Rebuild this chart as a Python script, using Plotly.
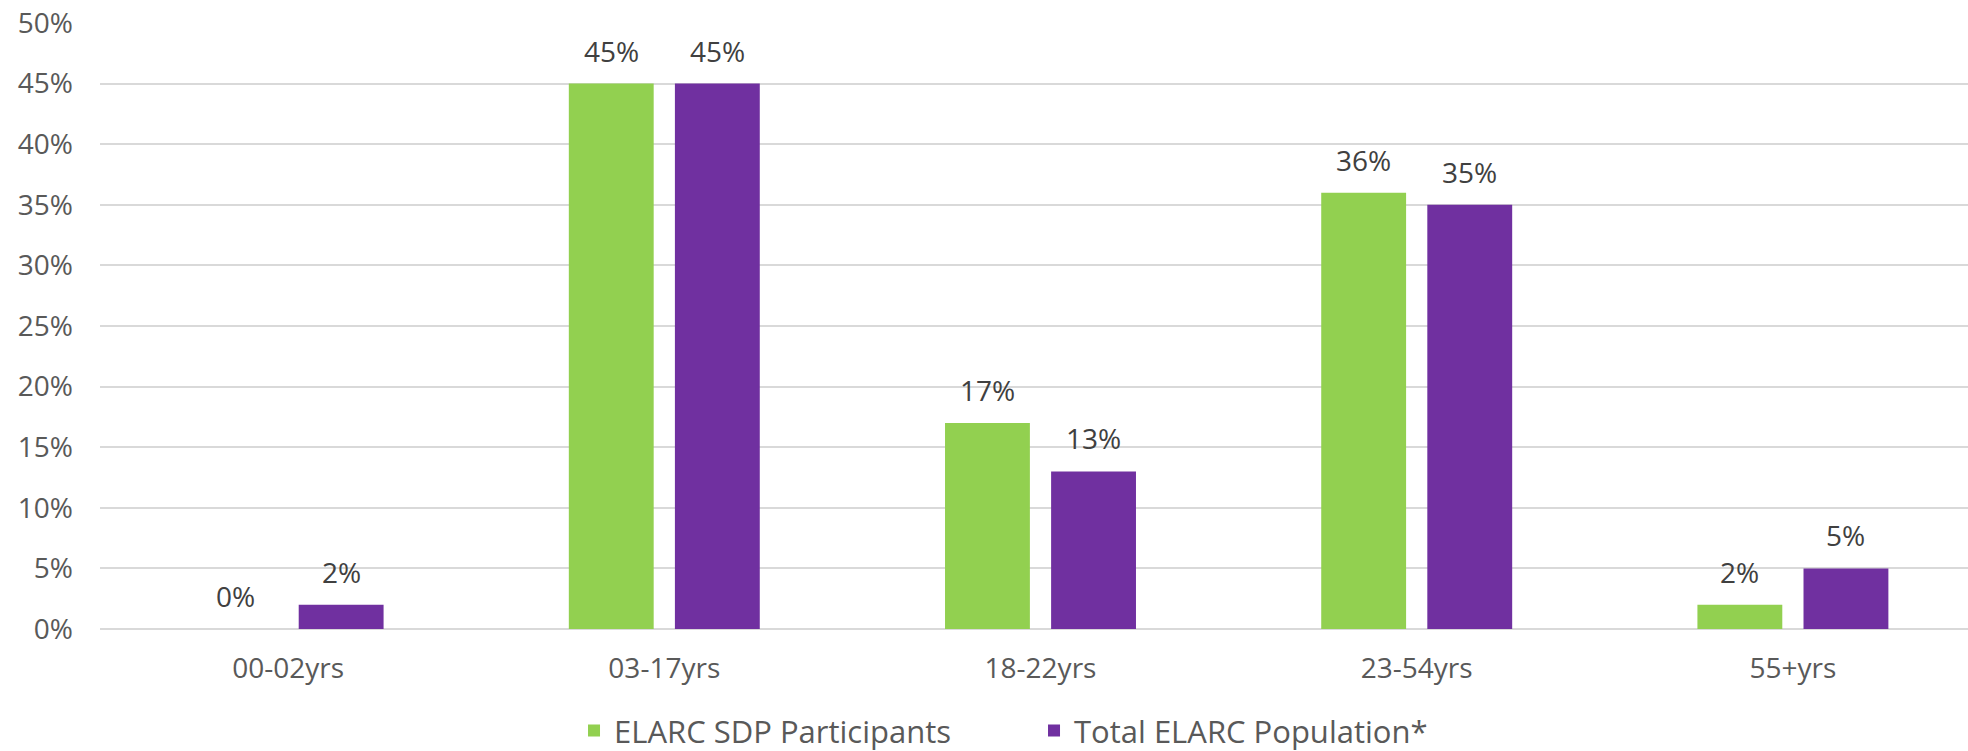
import plotly.graph_objects as go

categories = ["00-02yrs", "03-17yrs", "18-22yrs", "23-54yrs", "55+yrs"]
sdp_participants = [0, 45, 17, 36, 2]
total_population = [2, 45, 13, 35, 5]
series_names = ["ELARC SDP Participants", "Total ELARC Population*"]
y_ticks = [0, 5, 10, 15, 20, 25, 30, 35, 40, 45, 50]

GREEN = "#92D050"
PURPLE = "#7030A0"
FONT = "Open Sans"

fig = go.Figure()
fig.add_trace(go.Bar(x=categories, y=sdp_participants, name=series_names[0],
                     marker=dict(color=GREEN, line=dict(width=0))))
fig.add_trace(go.Bar(x=categories, y=total_population, name=series_names[1],
                     marker=dict(color=PURPLE, line=dict(width=0))))

annotations = []
for vals, shift in ((sdp_participants, -53), (total_population, 53)):
    for c, v in zip(categories, vals):
        annotations.append(dict(x=c, y=v, xref="x", yref="y", text=f"{v}%",
                                showarrow=False, xshift=shift, yshift=12,
                                yanchor="bottom",
                                font=dict(family=FONT, size=28, color="#404040")))

# plot area runs slightly past the right edge of the window, as in the reference
fig.update_layout(
    width=1981, height=751,
    margin=dict(l=100, r=0, t=23, b=122, autoexpand=False),
    paper_bgcolor="white", plot_bgcolor="white",
    barmode="group", bargap=0.436, bargroupgap=0.2,
    font=dict(family=FONT, size=28, color="#595959"),
    annotations=annotations,
    legend=dict(orientation="h", x=0.252, xanchor="left", y=-0.168, yanchor="middle",
                font=dict(family=FONT, size=31, color="#595959"),
                itemwidth=30, entrywidth=415, traceorder="normal"),
    xaxis=dict(showgrid=False, showline=False, ticks="", ticklabelstandoff=20,
               automargin=False,
               tickfont=dict(family=FONT, size=28, color="#595959")),
    yaxis=dict(range=[0, 50], tickvals=y_ticks, ticktext=[f"{t}%" for t in y_ticks],
               showgrid=True, gridcolor="#D9D9D9", gridwidth=2, zeroline=True,
               zerolinecolor="#D9D9D9", zerolinewidth=2, showline=False,
               ticks="", ticklabelstandoff=26, automargin=False,
               tickfont=dict(family=FONT, size=28, color="#595959")),
)

fig.write_html("out.html",
               config={"displayModeBar": False},
               post_script="document.body.style.margin='0';document.body.style.overflow='hidden';")
